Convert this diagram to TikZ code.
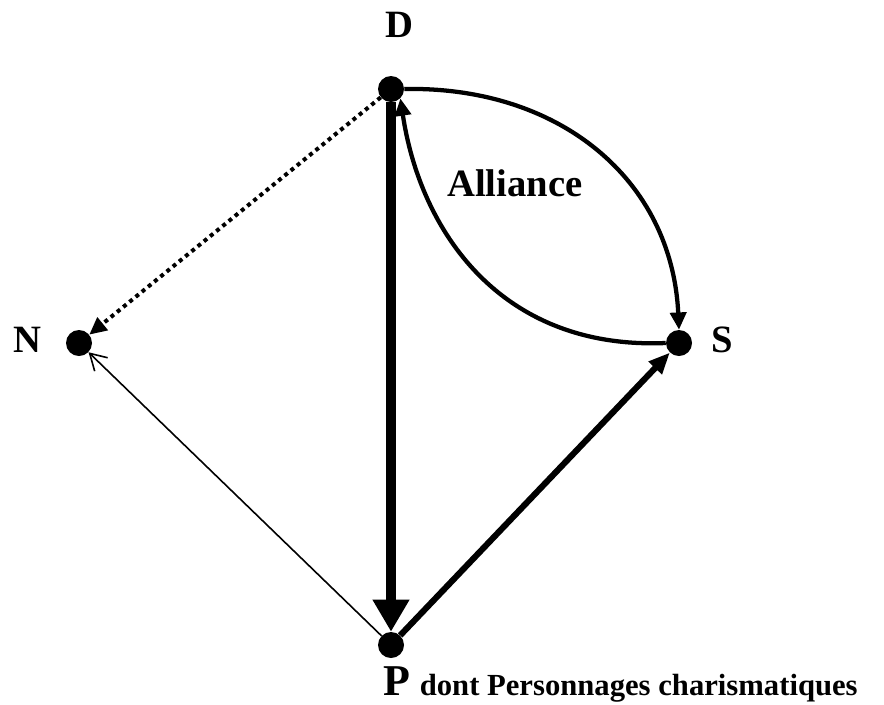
\documentclass[tikz,border=0pt]{standalone}
\usepackage{fontspec}
\setmainfont{Liberation Serif}
\usetikzlibrary{arrows.meta}

\begin{document}
\begin{tikzpicture}[
  x=0.75pt, y=-0.75pt,
  dot/.style={circle, fill=black, inner sep=0pt, minimum size=19.5pt},
  lbl/.style={inner sep=0pt, font=\fontsize{29}{34}\selectfont\bfseries},
  big/.style={-{Triangle[length=24pt, width=26pt]}, line width=7.5pt},
  mid/.style={-{Triangle[length=16pt, width=13pt]}, line width=4.6pt},
  crv/.style={-{Triangle[length=13pt, width=12pt]}, line width=3.2pt},
  dots/.style={-{Triangle[length=13pt, width=12pt]}, line width=3pt, dash pattern=on 3pt off 3pt},
  thin/.style={-{Straight Barb[length=12pt, width=14pt, line width=1.2pt]}, line width=1.2pt},
]
  \useasboundingbox (0,0) rectangle (884,704);

  %=================== points ===================
  \node[dot] (D) at (391,89)  {};
  \node[dot] (S) at (679,343) {};
  \node[dot] (N) at (79,343)  {};
  \node[dot] (P) at (391,645) {};

  \node[lbl] (Dl) at (399,25)  {D};
  \node[lbl] (Nl) at (27,340)  {N};
  \node[lbl] (Sl) at (722,340) {S};
  \node[lbl, anchor=base west] (Pl) at (383,695)
       {{\fontsize{33}{38}\selectfont P} {\fontsize{23}{27}\selectfont dont Personnages charismatiques}};
  \node[lbl, anchor=base west] (al) at (447,196) {Alliance};

  %=================== links ===================
  \draw[big]  (D) -- (P);
  \draw[mid]  (P) -- (S);
  \draw[thin] (P) -- (N);
  \draw[dots] (D) -- (N);

  % alliance D <-> S
  \draw[crv] (D.east) .. controls (560,86) and (672,180) .. (S.north);
  \draw[crv] (S.west) .. controls (500,350) and (420,230) .. (D.south east);
\end{tikzpicture}
\end{document}
